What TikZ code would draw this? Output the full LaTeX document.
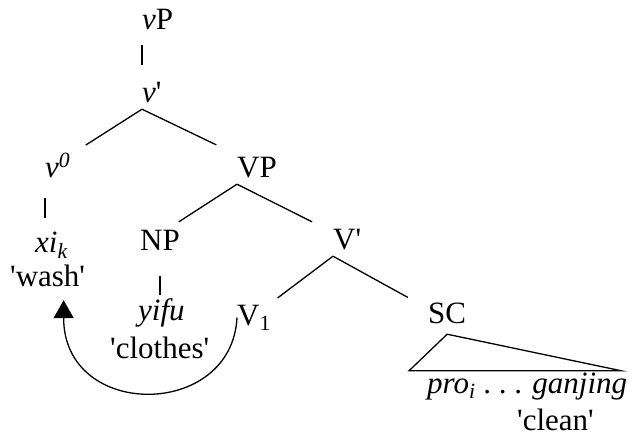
\documentclass[tikz,border=0pt]{standalone}
\usepackage{fontspec}
\setmainfont{Liberation Serif}
\usetikzlibrary{arrows.meta}
\newcommand{\q}{\textquotesingle}

\begin{document}
\begin{tikzpicture}[x=1pt,y=-1pt,
    every node/.style={inner sep=0pt,anchor=base west,
      text height=22pt,text depth=7pt,font=\fontsize{31}{36}\selectfont},
    branch/.style={line width=1.3pt},
    move/.style={line width=1.3pt,-{Triangle[length=18pt,width=20pt]}}]
  \useasboundingbox (0,0) rectangle (632,437);
  \node (vP) at (142,29) {\textit{v}P};
  \node (vbar) at (142,102) {\textit{v}\q};
  \node (vzero) at (45,177) {\textit{v}\textsuperscript{\textit{0}}};
  \node (VP) at (237,177) {VP};
  \node (xi) at (35,252) {\textit{xi}\textsubscript{\textit{k}}};
  \node (wash) at (10,286) {\q wash\q};
  \node (NP) at (140,250) {NP};
  \node (yifu) at (138,320) {\textit{yifu}};
  \node (clothes) at (110,358) {\q clothes\q};
  \node (Vbar) at (333,249) {V\q};
  \node (Vone) at (237,325) {V\textsubscript{1}};
  \node (SC) at (428,323) {SC};
  \node (pro) at (427,393) {\textit{pro\textsubscript{i}} .\ .\ . \textit{ganjing}};
  \node (clean) at (517,430) {\q clean\q};
  \draw[branch,shorten <=9pt,shorten >=15pt] (vP.south west) -- (vbar.north west);
  \draw[branch,shorten >=18pt] (vbar.south west) -- (vzero.north east);
  \draw[branch,shorten >=23pt] (vbar.south west) -- (VP.north west);
  \draw[branch,shorten <=14pt,shorten >=12pt] (vzero.south west) -- (vzero.south west |- xi.north);
  \draw[branch,shorten >=11pt] (VP.south west) -- (NP.57);
  \draw[branch,shorten >=11pt] (VP.south west) -- ([xshift=-11pt]Vbar.north west);
  \draw[branch,shorten <=19pt,shorten >=3pt] (NP.south) -- (NP.south |- yifu.north);
  \draw[branch,shorten >=8pt] (Vbar.south west) -- (Vone.north east);
  \draw[branch,shorten >=7pt] (Vbar.south west) -- ([xshift=-14pt]SC.north west);
  \draw[branch] ([yshift=-4pt]SC.south) -- ([xshift=-18pt]pro.north west)
    -- ([xshift=-6pt]pro.north east) -- cycle;
  \draw[move] (Vone.west) .. controls +(-5,102) and +(0,120) .. ([shift={(16,7)}]wash.south);
\end{tikzpicture}
\end{document}
